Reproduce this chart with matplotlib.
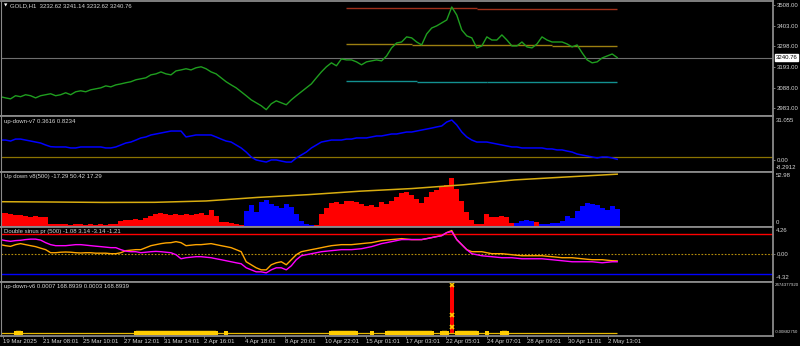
import numpy as np
import matplotlib
matplotlib.use('Agg')
import matplotlib.pyplot as plt

plt.rcParams['font.family'] = ['Liberation Sans', 'DejaVu Sans']

# ---------------- data ----------------
TITLE_MAIN = "GOLD,H1  3232.62 3241.14 3232.62 3240.76"
TITLE_V7 = "up-down-v7 0.3616 0.8234"
TITLE_V8 = "Up down v8(500) -17.29 50.42 17.29"
TITLE_DS = "Double sinus pr (500) -1.08 3.14 -3.14 -1.21"
TITLE_V6 = "up-down-v6 0.0007 168.8939 0.0003 168.8939"

LAST_BAR = 764          # bar index of the last sample
AXIS_BARS = 957         # bars visible in the window
TICK_BARS = [2.5 + 50 * i for i in range(16)]
TICK_LABELS = ['19 Mar 2025', '21 Mar 08:01', '25 Mar 10:01', '27 Mar 12:01', '31 Mar 14:01',
               '2 Apr 16:01', '4 Apr 18:01', '8 Apr 20:01', '10 Apr 22:01', '15 Apr 01:01',
               '17 Apr 03:01', '22 Apr 05:01', '24 Apr 07:01', '28 Apr 09:01', '30 Apr 11:01',
               '2 May 13:01']

price = [3042, 3036, 3031, 3047, 3042, 3052, 3047, 3036, 3047, 3052,
         3057, 3047, 3052, 3062, 3052, 3067, 3072, 3067, 3077, 3082,
         3087, 3097, 3092, 3102, 3107, 3113, 3118, 3128, 3133, 3138,
         3153, 3158, 3168, 3158, 3153, 3173, 3178, 3184, 3178, 3189,
         3194, 3184, 3168, 3158, 3138, 3118, 3102, 3087, 3067, 3047,
         3026, 3011, 2996, 2976, 3006, 3021, 3011, 3001, 3026, 3047,
         3067, 3087, 3107, 3138, 3168, 3194, 3214, 3199, 3234, 3229,
         3229, 3219, 3204, 3219, 3224, 3229, 3224, 3249, 3290, 3315,
         3320, 3346, 3341, 3320, 3305, 3361, 3391, 3402, 3417, 3432,
         3498, 3457, 3381, 3351, 3341, 3290, 3300, 3346, 3330, 3330,
         3356, 3330, 3300, 3300, 3320, 3295, 3290, 3310, 3346, 3330,
         3320, 3320, 3320, 3310, 3295, 3305, 3265, 3229, 3214, 3219,
         3239, 3249, 3259, 3240.76]
PRICE_TICKS = [2983.0, 3088.0, 3193.0, 3298.0, 3403.0, 3508.0]
PRICE_LAST = 3240.76
# horizontal levels: (start sample, end sample, price)
lvl_red = [(69, 95, 3491), (95, 123, 3487)]
lvl_olive = [(69, 82, 3309), (82, 110, 3305), (110, 123, 3300)]
lvl_teal = [(69, 83, 3123), (83, 97, 3119), (97, 123, 3116)]

v7_blue = [14.0, 14.0, 13.3, 14.7, 14.7, 14.0, 13.3, 12.6, 11.9, 10.5,
           9.3, 9.1, 9.1, 9.1, 8.4, 8.4, 9.1, 9.1, 9.1, 9.1,
           9.1, 8.4, 8.4, 9.1, 10.5, 11.9, 12.6, 14.0, 15.5, 16.2,
           17.6, 18.3, 19.0, 19.7, 20.4, 20.4, 20.4, 16.2, 16.9, 17.6,
           17.6, 17.6, 17.6, 16.2, 14.7, 13.3, 12.6, 10.5, 8.4, 5.5,
           2.0, -0.1, -0.9, -1.6, -0.1, -0.1, -0.9, -1.6, -1.6, 1.3,
           3.4, 5.5, 8.4, 10.5, 12.6, 13.3, 14.0, 14.0, 14.0, 14.7,
           14.7, 15.5, 15.5, 15.5, 16.2, 16.9, 16.9, 17.6, 18.3, 18.3,
           19.0, 19.7, 19.7, 20.4, 21.1, 21.8, 22.5, 23.3, 24.0, 26.8,
           28.2, 24.7, 19.7, 16.2, 14.0, 12.6, 12.6, 12.6, 11.9, 11.2,
           10.5, 9.8, 9.1, 9.1, 8.4, 8.4, 8.4, 8.4, 8.4, 7.7,
           7.7, 7.0, 7.0, 6.2, 5.5, 4.1, 3.4, 2.7, 2.0, 1.3,
           2.0, 2.0, 1.3, 0.36]
V7_MAX, V7_MIN = 31.055, -8.2912
V7_LEVEL = 1.8

v8_up = [13.0, 13.0, 12.0, 11.0, 11.0, 10.1, 9.2, 10.1, 9.2, 9.2,
         2.6, 2.6, 2.6, 2.6, 1.6, 2.6, 2.6, 1.6, 2.6, 1.6,
         2.6, 1.6, 2.6, 2.6, 5.4, 6.3, 6.3, 7.3, 6.3, 8.2,
         10.1, 12.0, 13.0, 12.0, 11.0, 12.0, 11.0, 12.0, 11.0, 12.0,
         13.0, 11.0, 15.7, 10.1, 4.5, 4.5, 3.5, 2.6, 1.6, 0,
         0, 0, 0, 0, 0, 0, 0, 0, 0, 0,
         0, 0, 0, 1.6, 12.0, 17.6, 22.3, 23.3, 21.4, 24.2,
         25.1, 23.3, 21.4, 19.5, 20.4, 18.6, 23.3, 21.4, 24.2, 28.9,
         32.7, 33.6, 30.8, 27.0, 22.3, 28.9, 33.6, 35.5, 38.3, 40.2,
         47.0, 36.4, 25.1, 13.9, 6.3, 2.6, 2.6, 12.0, 9.2, 9.2,
         10.1, 9.2, 3.5, 0, 0, 0, 0, 4.5, 0, 0,
         0, 0, 0, 0, 0, 0, 0, 0, 0, 0,
         0, 0, 0, 0]
v8_down = [0, 0, 0, 0, 0, 0, 0, 0, 0, 0,
           0, 0, 0, 0, 0, 0, 0, 0, 0, 0,
           0, 0, 0, 0, 0, 0, 0, 0, 0, 0,
           0, 0, 0, 0, 0, 0, 0, 0, 0, 0,
           0, 0, 0, 0, 0, 0, 0, 0, 0, 14.8,
           20.4, 13.9, 23.3, 26.1, 21.4, 19.5, 17.6, 21.4, 18.6, 12.0,
           5.4, 2.6, 1.6, 0, 0, 0, 0, 0, 0, 0,
           0, 0, 0, 0, 0, 0, 0, 0, 0, 0,
           0, 0, 0, 0, 0, 0, 0, 0, 0, 0,
           0, 0, 0, 0, 0, 0, 0, 0, 0, 0,
           0, 0, 0, 3.5, 5.4, 6.3, 5.4, 0, 2.6, 2.6,
           3.5, 3.5, 5.4, 10.1, 8.2, 14.8, 19.5, 22.3, 21.4, 20.4,
           17.6, 15.7, 19.5, 17.29]
v8_ma = [24.0, 23.7, 23.3, 23.4, 24.7, 28.1, 30.8, 34.1, 36.6, 40.2, 44.9, 47.7, 50.42]
V8_MAX = 52.98

ds_magenta = [2.25, 2.09, 1.98, 2.09, 2.14, 2.25, 2.32, 2.32, 2.17, 1.77,
              1.46, 1.30, 1.30, 1.30, 1.38, 1.46, 1.46, 1.38, 1.30, 1.22,
              1.15, 1.07, 0.99, 0.99, 0.68, 0.44, 0.36, 0.36, 0.20, 0.28,
              0.36, 0.41, 0.36, 0.28, 0.20, -0.11, -0.74, -0.58, -0.50, -0.42,
              -0.42, -0.50, -0.58, -0.74, -0.89, -1.05, -1.21, -1.37, -1.52, -2.15,
              -2.47, -2.78, -2.78, -2.94, -2.47, -2.15, -2.15, -2.47, -1.84, -0.89,
              -0.27, -0.11, 0.05, 0.20, 0.36, 0.44, 0.52, 0.60, 0.68, 0.68,
              0.68, 0.75, 0.83, 0.99, 1.15, 1.38, 1.62, 1.77, 1.93, 2.09,
              2.25, 2.25, 2.25, 2.25, 2.25, 2.40, 2.56, 2.72, 2.87, 3.34,
              3.50, 2.25, 1.46, 0.68, 0.05, -0.11, -0.27, -0.35, -0.42, -0.50,
              -0.58, -0.58, -0.58, -0.66, -0.74, -0.74, -0.74, -0.74, -0.74, -0.82,
              -0.89, -0.97, -1.05, -1.13, -1.21, -1.21, -1.21, -1.21, -1.21, -1.29,
              -1.37, -1.29, -1.21, -1.21]
ds_orange = [1.46, 1.30, 1.19, 1.46, 1.62, 1.46, 1.30, 1.15, 0.91, 0.68,
             0.20, 0.20, 0.28, 0.31, 0.28, 0.20, 0.16, 0.20, 0.20, 0.13,
             0.13, 0.13, 0.05, 0.05, 0.20, 0.52, 0.60, 0.68, 0.68, 0.99,
             1.30, 1.46, 1.62, 1.73, 1.77, 1.93, 1.77, 1.30, 1.38, 1.46,
             1.46, 1.54, 1.62, 1.46, 1.30, 1.15, 0.99, 0.68, 0.36, -1.21,
             -1.68, -2.15, -2.47, -2.47, -1.68, -1.37, -1.21, -1.68, -0.89, -0.11,
             0.36, 0.52, 0.68, 0.83, 0.99, 1.15, 1.30, 1.38, 1.46, 1.46,
             1.46, 1.54, 1.62, 1.70, 1.77, 1.93, 2.09, 2.17, 2.25, 2.32,
             2.40, 2.32, 2.25, 2.25, 2.25, 2.40, 2.56, 2.72, 2.87, 3.34,
             3.66, 2.25, 1.46, 0.68, 0.36, 0.36, 0.36, 0.20, 0.05, 0.05,
             0.05, -0.03, -0.11, -0.19, -0.27, -0.27, -0.27, -0.27, -0.27, -0.35,
             -0.42, -0.50, -0.58, -0.58, -0.58, -0.66, -0.74, -0.82, -0.89, -0.89,
             -0.89, -0.97, -1.05, -1.08]
DS_MAX, DS_MIN, DS_LEVEL = 4.26, -4.32, 3.14

v6_active = [0, 0, 0, 1, 1, 0, 0, 0, 0, 0,
             0, 0, 0, 0, 0, 0, 0, 0, 0, 0,
             0, 0, 0, 0, 0, 0, 0, 1, 1, 1,
             1, 1, 1, 1, 1, 1, 1, 1, 1, 1,
             1, 1, 1, 1, 0, 1, 0, 0, 0, 0,
             0, 0, 0, 0, 0, 0, 0, 0, 0, 0,
             0, 0, 0, 0, 0, 0, 1, 1, 1, 1,
             1, 1, 0, 0, 1, 0, 0, 1, 1, 1,
             1, 1, 1, 1, 1, 1, 1, 0, 1, 1,
             0, 1, 1, 1, 1, 1, 0, 1, 0, 0,
             1, 1, 0, 0, 0, 0, 0, 0, 0, 0,
             0, 0, 0, 0, 0, 0, 0, 0, 0, 0,
             0, 0, 0, 0]
V6_SPIKE_AT = 90
V6_SPIKE = 2474377920
v6_spike_marks = [2474377920, 915000000, 297000000]
V6_TOP_LABEL = "2474377920"
V6_BOTTOM_LABEL = "-0.00882750"

# ---------------- drawing ----------------
W, H = 800, 346
FS = 4.3
TXT = '#d6d6d6'
GRID = '#8a8a8a'
N = len(price)
x = np.linspace(0, LAST_BAR, N)
step = x[1] - x[0]

fig = plt.figure(figsize=(W / 100, H / 100), dpi=100, facecolor='black')
R = 773.0
bounds = [1.0, 116.0, 171.5, 226.7, 281.7, 335.7]
axes = []
for i in range(5):
    top, bot = bounds[i], bounds[i + 1]
    ax = fig.add_axes([0.5 / W, 1 - bot / H, (R - 0.5) / W, (bot - top) / H])
    ax.set_facecolor('black')
    for s in ax.spines.values():
        s.set_color(GRID)
        s.set_linewidth(1.3)
    ax.spines['left'].set_linewidth(0.8)
    ax.set_xlim(0, AXIS_BARS)
    ax.yaxis.tick_right()
    ax.tick_params(axis='y', colors=GRID, labelcolor=TXT, labelsize=FS,
                   length=1.5, width=0.6, pad=1.0)
    if i < 4:
        ax.tick_params(axis='x', bottom=False, labelbottom=False)
    axes.append(ax)


def edge_label(ax, txt, top, fs=FS, dx=3):
    if top:
        ax.annotate(txt, xy=(1, 1), xycoords='axes fraction', xytext=(dx, -1.5),
                    textcoords='offset pixels', ha='left', va='top', color=TXT, fontsize=fs)
    else:
        ax.annotate(txt, xy=(1, 0), xycoords='axes fraction', xytext=(dx, 1.5),
                    textcoords='offset pixels', ha='left', va='bottom', color=TXT, fontsize=fs)


def title(ax, txt, dx=3):
    ax.annotate(txt, xy=(0, 1), xycoords='axes fraction', xytext=(dx, -2.5),
                textcoords='offset pixels', ha='left', va='top', color=TXT, fontsize=FS)


# main panel
ax = axes[0]
ax.set_ylim(2943.9, 3528.3)
ax.axhline(PRICE_LAST, color='#6e6e6e', lw=0.8)
for segs, col in ((lvl_red, '#a0301a'), (lvl_olive, '#9c7f10'), (lvl_teal, '#139090')):
    for k0, k1, lv in segs:
        ax.hlines(lv, x[k0], x[k1], color=col, lw=1.0)
ax.plot(x, price, color='#1f9e1f', lw=1.0)
ax.set_yticks(PRICE_TICKS)
ax.set_yticklabels(['%.2f' % v for v in PRICE_TICKS])
ax.annotate('%.2f' % PRICE_LAST, xy=(1, PRICE_LAST), xycoords=('axes fraction', 'data'),
            xytext=(3.0, 0), textcoords='offset pixels', ha='left', va='center',
            color='black', fontsize=FS,
            bbox=dict(boxstyle='square,pad=0.12', fc='white', ec='white'))
ax.annotate('\u25bc', xy=(0, 1), xycoords='axes fraction', xytext=(3, -3),
            textcoords='offset pixels', ha='left', va='top', color='white', fontsize=3.2,
            family='DejaVu Sans')
title(ax, TITLE_MAIN, dx=9)

# up-down-v7
ax = axes[1]
ax.set_ylim(V7_MIN, V7_MAX)
ax.axhline(V7_LEVEL, color='#8b7300', lw=0.9)
ax.plot(x, v7_blue, color='#0000ff', lw=1.1)
ax.set_yticks([0])
ax.set_yticklabels(['0.00'])
edge_label(ax, '31.055', True)
edge_label(ax, '-8.2912', False)
title(ax, TITLE_V7)

# up down v8
ax = axes[2]
ax.set_ylim(0, V8_MAX)
ax.bar(x, v8_up, width=step, color='#ff0000', linewidth=0, align='center')
ax.bar(x, v8_down, width=step, color='#0000ff', linewidth=0, align='center')
ax.hlines(0.4, 0, x[-1], color='#a020a0', lw=0.8)
xm = np.linspace(0, LAST_BAR, len(v8_ma))
ax.plot(xm, v8_ma, color='#d8ad10', lw=1.1)
ax.set_yticks([])
edge_label(ax, '52.98', True)
edge_label(ax, '0', False)
title(ax, TITLE_V8)

# double sinus
ax = axes[3]
ax.set_ylim(DS_MIN, DS_MAX)
ax.axhline(DS_LEVEL, color='#ff0000', lw=1.0)
ax.axhline(-DS_LEVEL, color='#0000ff', lw=1.0)
ax.axhline(0, color='#b8900b', lw=0.8, ls=(0, (1.5, 1.5)))
ax.plot(x, ds_orange, color='#ffa500', lw=1.0)
ax.plot(x, ds_magenta, color='#ff00ff', lw=1.0)
ax.set_yticks([0])
ax.set_yticklabels(['0.00'])
edge_label(ax, '4.26', True)
edge_label(ax, '-4.32', False)
title(ax, TITLE_DS)

# up-down-v6
ax = axes[4]
ax.set_ylim(-0.067 * V6_SPIKE, 1.069 * V6_SPIKE)
ax.hlines(0, 0, x[-1], color='#e8b800', lw=0.9)
act = np.array(v6_active, dtype=float)
thick = np.where(act > 0, 0.0, np.nan)
ax.plot(x, thick, color='#ffcc00', lw=3.2, solid_capstyle='butt')
ax.plot(x[act > 0], np.zeros(int(act.sum())), 's', color='#ffcc00', ms=2.4, mew=0)
ax.bar(x[V6_SPIKE_AT], V6_SPIKE, width=step * 0.8, color='#ff0000', linewidth=0)
ax.plot([x[V6_SPIKE_AT]] * len(v6_spike_marks), v6_spike_marks, 'x',
        color='#ffcc00', ms=3, mew=1.2)
ax.set_yticks([])
edge_label(ax, V6_TOP_LABEL, True, fs=3.15, dx=2)
edge_label(ax, V6_BOTTOM_LABEL, False, fs=3.05, dx=2)
title(ax, TITLE_V6)
ax.set_xticks(TICK_BARS)
ax.set_xticklabels(TICK_LABELS)
ax.tick_params(axis='x', colors=GRID, labelcolor=TXT, labelsize=FS, length=1.5,
               width=0.6, pad=1.0)
for lbl in ax.get_xticklabels():
    lbl.set_ha('left')

fig.savefig('out.png', dpi=100, facecolor='black')
